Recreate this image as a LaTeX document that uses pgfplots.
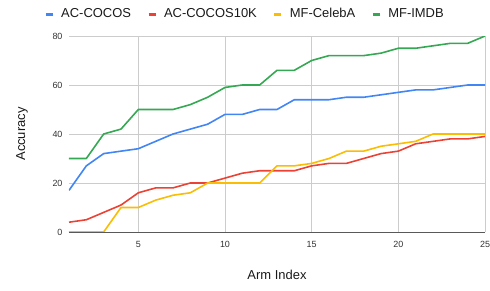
\documentclass[border=0pt]{standalone}
\usepackage{pgfplots}
\pgfplotsset{compat=1.18}
\usepackage{fontspec}
\setmainfont{Liberation Sans}
\definecolor{cblue}{HTML}{4285F4}
\definecolor{cred}{HTML}{EA4335}
\definecolor{cyellow}{HTML}{FBBC04}
\definecolor{cgreen}{HTML}{34A853}
\definecolor{gridc}{HTML}{CCCCCC}
\definecolor{tickc}{HTML}{333333}
\begin{document}
\begin{tikzpicture}
\path[use as bounding box] (-69bp,-59bp) rectangle (421bp,232bp);
\begin{axis}[
  at={(0,0)}, anchor=south west,
  scale only axis, width=416bp, height=196bp,
  xmin=1, xmax=25, ymin=0, ymax=80,
  xtick={5,10,15,20,25}, ytick={0,20,40,60,80},
  axis x line*=bottom, axis y line*=left,
  y axis line style={draw=none},
  x axis line style={-, color=black!65, line width=0.9bp},
  major tick length=0pt,
  grid=major, major grid style={gridc, line width=0.7bp},
  tick label style={font=\fontsize{9}{10}\selectfont, text=tickc},
  /pgf/number format/assume math mode=true,
  xticklabel style={yshift=-6bp},
  yticklabel style={xshift=-3bp},
  xlabel={Arm Index}, ylabel={Accuracy},
  label style={font=\fontsize{13}{15}\selectfont, text=black!90},
  xlabel style={at={(axis description cs:0.5,-0.219)}, anchor=center},
  ylabel style={at={(axis description cs:-0.113,0.5)}, anchor=center, rotate=0},
  legend columns=-1,
  legend style={draw=none, fill=none, at={(axis description cs:0.423,1.112)}, anchor=center,
    font=\fontsize{13}{15}\selectfont, text=black!90,
    /tikz/every odd column/.append style={column sep=5bp},
    /tikz/every even column/.append style={column sep=14bp}},
  legend image code/.code={\draw[line width=3bp] (0bp,0bp) -- (7bp,0bp);},
  every axis plot/.append style={line width=1.6bp, line join=round},
]
\addplot[cblue] coordinates {(1,17)(2,27)(3,32)(4,33)(5,34)(6,37)(7,40)(8,42)(9,44)(10,48)(11,48)(12,50)(13,50)(14,54)(15,54)(16,54)(17,55)(18,55)(19,56)(20,57)(21,58)(22,58)(23,59)(24,60)(25,60)};
\addlegendentry{AC-COCOS}
\addplot[cred] coordinates {(1,4)(2,5)(3,8)(4,11)(5,16)(6,18)(7,18)(8,20)(9,20)(10,22)(11,24)(12,25)(13,25)(14,25)(15,27)(16,28)(17,28)(18,30)(19,32)(20,33)(21,36)(22,37)(23,38)(24,38)(25,39)};
\addlegendentry{AC-COCOS10K}
\addplot[cyellow] coordinates {(1,0)(2,0)(3,0)(4,10)(5,10)(6,13)(7,15)(8,16)(9,20)(10,20)(11,20)(12,20)(13,27)(14,27)(15,28)(16,30)(17,33)(18,33)(19,35)(20,36)(21,37)(22,40)(23,40)(24,40)(25,40)};
\addlegendentry{MF-CelebA}
\addplot[cgreen] coordinates {(1,30)(2,30)(3,40)(4,42)(5,50)(6,50)(7,50)(8,52)(9,55)(10,59)(11,60)(12,60)(13,66)(14,66)(15,70)(16,72)(17,72)(18,72)(19,73)(20,75)(21,75)(22,76)(23,77)(24,77)(25,80)};
\addlegendentry{MF-IMDB}
\end{axis}
\end{tikzpicture}
\end{document}
